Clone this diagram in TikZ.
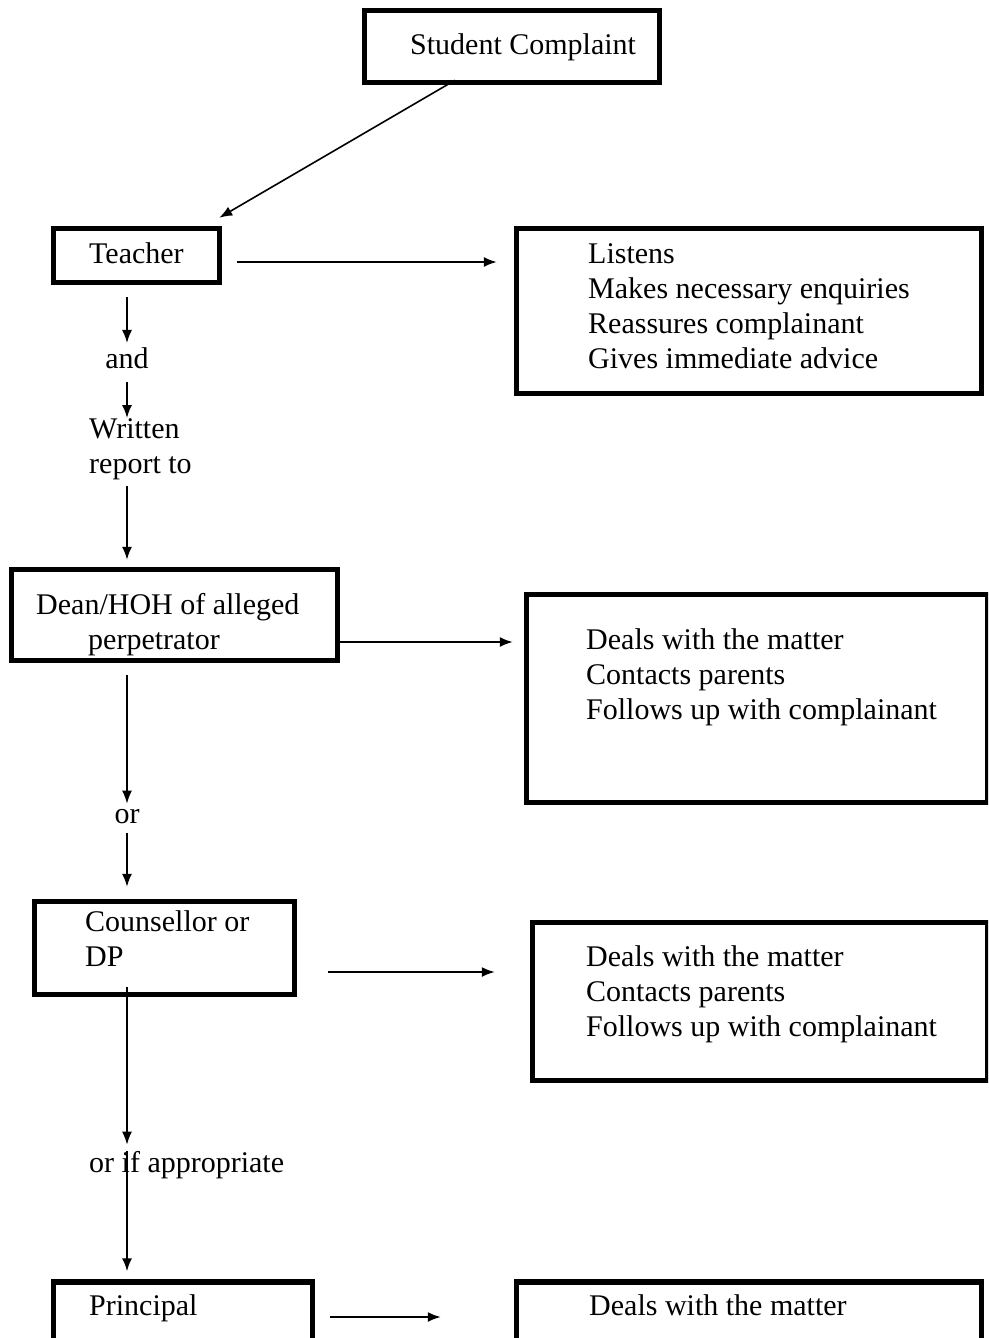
\documentclass[tikz,border=0pt]{standalone}
\usepackage{fontspec}
\setmainfont{Liberation Serif}
\usetikzlibrary{arrows.meta}

\begin{document}
\begin{tikzpicture}[x=1pt, y=-1pt,
    >={Latex[length=13pt,width=10pt]},
    box/.style={draw, line width=5.5pt, inner sep=0pt},
    txt/.style={inner sep=0pt, font=\fontsize{30}{35}\selectfont},
    lines/.style={txt, align=left, anchor=north west},
    arr/.style={->, line width=1.6pt}]
                    \useasboundingbox (0,0) rectangle (988,1338);
                    \clip (0,0) rectangle (988,1338);
                    % boxes
                    \node[box, minimum width=295pt, minimum height=72pt] (complaint) at (512,46.5) {};
                    \node[box, minimum width=166pt, minimum height=54pt] (teacher) at (136.5,255.5) {};
                    \node[box, minimum width=465pt, minimum height=165pt] (listens) at (749,311) {};
                    \node[box, minimum width=326pt, minimum height=91pt] (dean) at (174.5,615) {};
                    \node[box, minimum width=461pt, minimum height=208pt] (deals1) at (757,698.5) {};
                    \node[box, minimum width=260pt, minimum height=93pt] (counsellor) at (164.5,948) {};
                    \node[box, minimum width=455pt, minimum height=158pt] (deals2) at (760,1001.5) {};
                    \node[box, minimum width=259pt, minimum height=64pt] (principal) at (183,1314) {};
                    \node[box, minimum width=465pt, minimum height=64pt] (deals3) at (749,1314) {};
                    % texts
                    \node[txt, anchor=base west] (tcomplaint) at (410,55) {Student Complaint};
                    \node[txt, anchor=base west] (tteacher) at (89,263) {Teacher};
                    \node[lines] (tlistens) at (588,243) {Listens\\Makes necessary enquiries\\Reassures complainant\\Gives immediate advice};
                    \node[lines] (tdean) at (36,593) {Dean/HOH of alleged\\\hspace*{52pt}perpetrator};
                    \node[lines] (tdeals1) at (586,628) {Deals with the matter\\Contacts parents\\Follows up with complainant};
                    \node[lines] (tcounsellor) at (85,910) {Counsellor or\\DP};
                    \node[lines] (tdeals2) at (586,945) {Deals with the matter\\Contacts parents\\Follows up with complainant};
                    \node[txt, anchor=base west] (tprincipal) at (89,1315) {Principal};
                    \node[txt, anchor=base west] (tdeals3) at (589,1315) {Deals with the matter};
                    % labels on the way down
                    \node[txt, anchor=base] (and) at (127,368) {and};
                    \node[lines] (written) at (89,418) {Written\\report to};
                    \node[txt, anchor=base] (or) at (127,823) {or};
                    \node[txt, anchor=base west] (approp) at (89,1172) {or if appropriate};

                    \coordinate (col) at (127,0);
                    \coordinate (row1) at (0,262);
                    \coordinate (row2) at (0,642);
                    \coordinate (row3) at (0,972);
                    \coordinate (row4) at (0,1317);

                    \draw[arr] ([xshift=-57pt,yshift=5pt]complaint.south) -- ([xshift=-3pt,yshift=8pt]teacher.north east);
                    \draw[arr, shorten <=15pt, shorten >=17pt] (teacher.east |- row1) -- (listens.west |- row1);
                    \draw[arr, shorten <=12pt, shorten >=4pt] (col |- teacher.south) -- (and.north);
                    \draw[arr, shorten <=14pt] (and.south) -- (col |- written.north);
                    \draw[arr, shorten <=6pt, shorten >=7pt] (col |- written.south) -- (col |- dean.north);
                    \draw[arr, shorten >=11pt] (dean.east |- row2) -- (deals1.west |- row2);
                    \draw[arr, shorten <=12pt, shorten >=5pt] (col |- dean.south) -- (or.north);
                    \draw[arr, shorten <=9pt, shorten >=12pt] (or.south) -- (col |- counsellor.north);
                    \draw[arr, shorten <=31pt, shorten >=35pt] (counsellor.east |- row3) -- (deals2.west |- row3);
                    \draw[arr, shorten <=-10pt, shorten >=6pt] (col |- counsellor.south) -- (col |- approp.north);
                    \draw[arr, shorten >=8pt] (col |- approp.north) -- (col |- principal.north);
                    \draw[arr, shorten <=15pt, shorten >=73pt] (principal.east |- row4) -- (deals3.west |- row4);
                \end{tikzpicture}
\end{document}
